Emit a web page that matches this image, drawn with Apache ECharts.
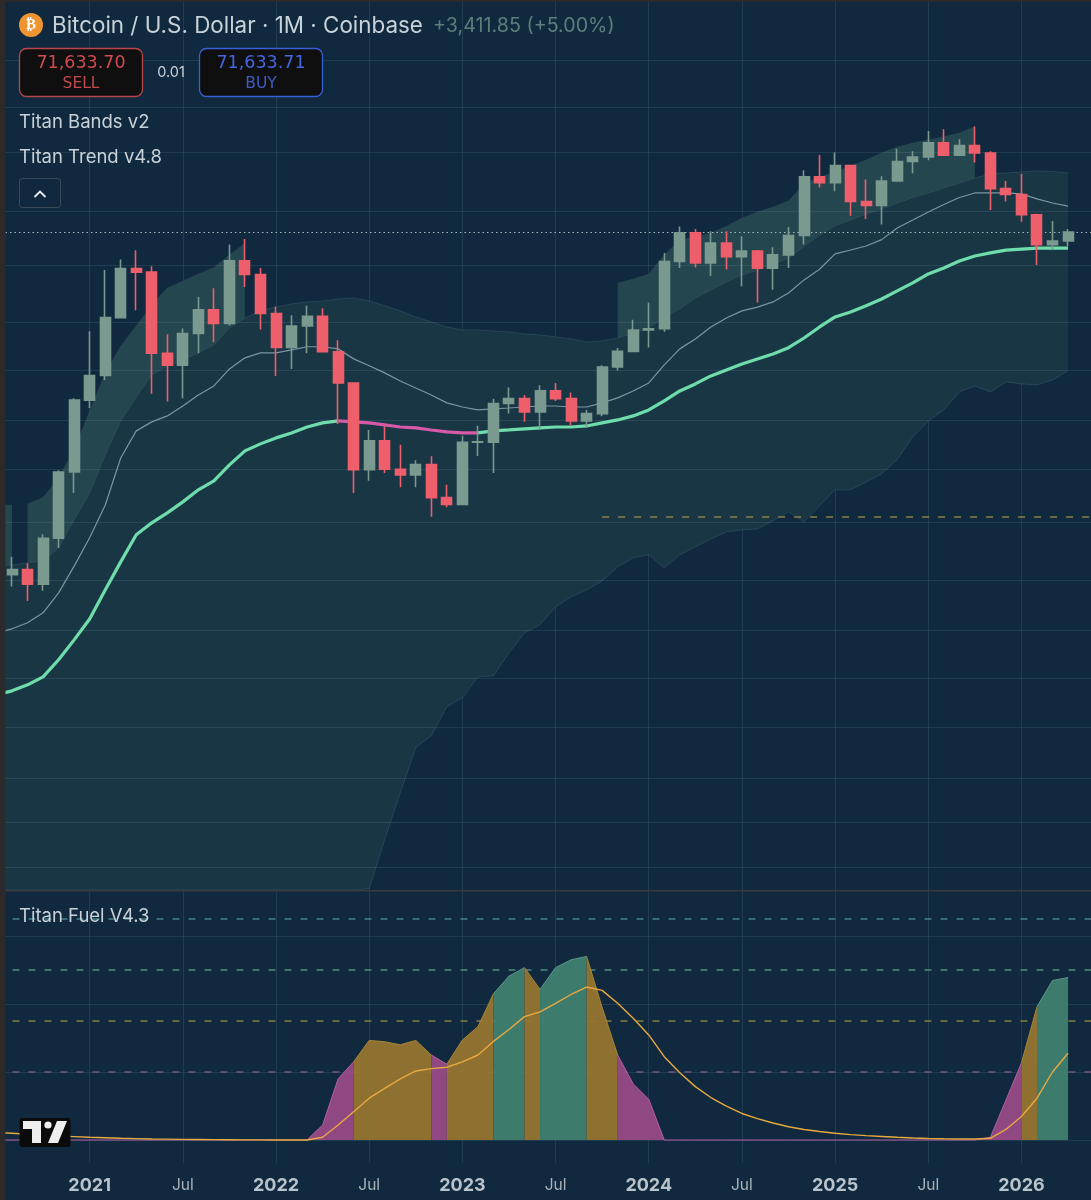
<!DOCTYPE html>
<html>
<head>
<meta charset="utf-8">
<title>Bitcoin / U.S. Dollar</title>
<script src="https://cdn.jsdelivr.net/npm/echarts@6/dist/echarts.min.js"></script>
<style>
  html, body { margin: 0; padding: 0; background: #10293e; }
  #chart { width: 1091px; height: 1200px; }
</style>
</head>
<body>
<div id="chart"></div>
<script>
// monthly bars, Jul 2020 is an empty slot so the bands run off the left edge
const months = [];
for (let i = 0; i < 72; i++) {
  const m = (6 + i) % 12;
  months.push((2020 + Math.floor((6 + i) / 12)) + "-" + String(m + 1).padStart(2, "0"));
}

const candleOpen = [null, 11350, 11655, 10780, 13800, 19700, 29000, 33100, 45200, 58800, 57700, 37300, 35000, 41500, 47100, 43800, 61300, 57000, 46200, 38500, 43200, 45500, 37600, 31800, 19950, 23300, 20000, 19400, 20500, 17170, 16550, 23130, 23130, 28480, 29250, 27200, 30470, 29230, 25940, 26970, 34650, 37700, 42270, 42580, 61130, 71300, 60650, 67500, 62700, 64600, 58970, 63330, 70300, 96400, 93350, 102400, 84350, 82550, 94200, 104600, 107200, 115700, 108200, 114000, 109500, 90400, 87600, 78600, 66900, 68222];
const candleClose = [null, 11655, 10780, 13800, 19700, 29000, 33100, 45200, 58800, 57700, 37300, 35000, 41500, 47100, 43800, 61300, 57000, 46200, 38500, 43200, 45500, 37600, 31800, 19950, 23300, 20000, 19400, 20500, 17170, 16550, 23130, 23180, 28480, 29250, 27200, 30470, 29230, 25940, 26970, 34650, 37700, 42270, 42580, 61130, 71300, 60650, 67500, 62700, 64600, 58970, 63330, 70300, 96400, 93350, 102400, 84350, 82550, 94200, 104600, 107200, 115700, 108200, 114000, 109500, 90400, 87600, 78600, 66900, 68200, 71633];
const candleHigh = [null, 12480, 12070, 14100, 19900, 29300, 42000, 58350, 61800, 64900, 59600, 41300, 42600, 50500, 52900, 67000, 69000, 59000, 47900, 45800, 48200, 47500, 40000, 31900, 24700, 25200, 22800, 21000, 21450, 18400, 23950, 25250, 29200, 31050, 29800, 31400, 31800, 30200, 27500, 35000, 38400, 44700, 49000, 64000, 73800, 72800, 71900, 71900, 70000, 65000, 66000, 73600, 99800, 108300, 109800, 102600, 95000, 96600, 112000, 110500, 123200, 124500, 117900, 126200, 110600, 94200, 98000, 79000, 76000, 72800];
const candleLow = [null, 10650, 9850, 10400, 13100, 17600, 27800, 32300, 45100, 47000, 30000, 28800, 29300, 37300, 39600, 43300, 53300, 42400, 33000, 34300, 37300, 37500, 25500, 17600, 18800, 19600, 18150, 18150, 15480, 16300, 16500, 21470, 19600, 27000, 25800, 24750, 28850, 25300, 25000, 26600, 34000, 37600, 38500, 41900, 59000, 59200, 56500, 58500, 53500, 49000, 52500, 59000, 67000, 91000, 89200, 78200, 76800, 74600, 94000, 98200, 105300, 108000, 107800, 104000, 80600, 84400, 75700, 60000, 65000, 66300];

// Titan Bands v2
const bandTop = [16510, 16510, 16600, 17180, 19110, 22190, 27360, 33570, 38790, 43200, 48430, 53000, 55000, 57150, 59200, 63300, 67500,
  null, null, null, null, null, null, null, null, null, null, null, null, null, null, null, null, null, null, null, null, null, null, null,
  54460, 55640, 57150, 63300, 68630, 69720, 71250, 73860, 77240, 79765, 81900, 84620, 92720, 96210, 98899, 102160, 105500, 109530, 113050, 115580, 117500, 119520, 121960, 126300,
  null, null, null, null, null, null];
const bandUpper = [11890, 11950, 12090, 12220, 13110, 15230, 17610, 21600, 25930, 29510, 33210, 34850, 36000, 37380, 39020, 42750, 45110, 46850, 47870, 48640, 49168, 49430, 49960, 50230, 49430, 48170, 46850, 45350, 44156, 42980, 42290, 42290, 42070, 41845, 41400, 41180, 40740, 40300, 39655, 39870, 40520, 41620, 42750, 45350, 47340, 50230, 52440, 54749, 56870, 58300, 60320, 62210, 66280, 70480, 74060, 76400, 78920, 81000, 83700, 86210, 88340, 90750, 93220, 95740, 97840, 98360, 98899, 99430, 99160, 98360];
const bandMid = [8300, 8480, 8760, 9240, 10290, 11880, 13830, 16480, 21250, 24580, 25800, 26640, 28100, 29800, 31300, 34300, 36400, 37380, 37380, 37990, 38640, 38640, 38200, 36200, 34900, 33570, 32150, 30960, 29800, 28570, 27950, 27510, 27660, 27800, 27950, 28100, 28100, 27950, 27950, 28570, 29350, 30470, 31810, 35040, 38200, 40300, 42980, 45110, 46850, 47830, 49170, 51600, 55350, 58600, 63640, 65000, 66420, 68730, 73200, 76400, 79770, 83000, 86210, 88340, 88340, 88340, 87870, 85550, 83700, 82320];
const bandLower = [1000, 1000, 1000, 1000, 1000, 1000, 1000, 1000, 1000, 1000, 1000, 1000, 1000, 1000, 1000, 1000, 1000, 1000, 1000, 1000, 1000, 1000, 1300, 1620, 2096, 2730, 3510, 4480, 4770, 5575, 5850, 6550, 6580, 7450, 8300, 8670, 9540, 10070, 10450, 10970, 11830, 12420, 12620, 11770, 12620, 13170, 13750, 14281, 14430, 14510, 15150, 15902, 15070, 16430, 17900, 17900, 18684, 19510, 21050, 23790, 25930, 27510, 30309, 31300, 30309, 31982, 31640, 31470, 32330, 33930];
const topFillRuns = [[0, 1], [2, 16], [40, 63]];

// Titan Trend v4.8
const trendLine = [5950, 6075, 6275, 6550, 7180, 7990, 8940, 10450, 12154, 14060, 14990, 15820, 16780, 17900, 18780, 20470, 22070, 22920, 23670, 24310, 25100, 25660, 25930, 25795, 25660, 25390, 25100, 24970, 24700, 24445, 24310, 24310, 24580, 24700, 24840, 24970, 25100, 25100, 25240, 25660, 26070, 26640, 27510, 28880, 30470, 31640, 33030, 34110, 35230, 36180, 37180, 38440, 40500, 42980, 45350, 46595, 48190, 49960, 52160, 54460, 57150, 59030, 61290, 62940, 63990, 64980, 65330, 65680, 65680, 65680];
const trendBearRun = [22, 31];

// Titan Fuel V4.3
const fuelValues = [0, 0, 0, 0, 0, 0, 0, 0, 0, 0, 0, 0, 0, 0, 0, 0, 0, 0, 0, 0, 0, 4.4, 18, 23, 29.3, 28.9, 28, 29.3, 25, 22.3, 29.4, 33.3, 43, 48.2, 50.7, 44.3, 50.7, 53, 54, 39, 25, 16.5, 12, 0, 0, 0, 0, 0, 0, 0, 0, 0, 0, 0, 0, 0, 0, 0, 0, 0, 0, 0, 0, 0, 0.8, 11.7, 22.7, 39.2, 46.9, 47.8];
const fuelSignal = [2.2, 2, 1.7, 1.45, 1.2, 1, 0.8, 0.65, 0.5, 0.4, 0.3, 0.25, 0.2, 0.15, 0.1, 0.08, 0.05, 0.03, 0.02, 0.01, 0.01, 0.8, 4.4, 8.3, 12.3, 15.2, 18, 20.3, 21, 21.4, 23, 25, 29, 32.5, 36.3, 37.7, 40.2, 42.8, 45, 44, 40.2, 35.8, 30.9, 24.5, 19.8, 15.7, 12.5, 10, 7.8, 6.3, 5, 3.9, 3.1, 2.5, 2, 1.6, 1.3, 1.05, 0.8, 0.6, 0.45, 0.35, 0.3, 0.3, 0.5, 3.1, 6.9, 12.3, 20, 25.5];
const fuelRuns = [["p", 0, 23], ["o", 23, 28], ["p", 28, 29], ["o", 29, 32], ["g", 32, 34], ["o", 34, 35], ["g", 35, 38], ["o", 38, 40], ["p", 40, 66], ["o", 66, 67], ["g", 67, 69]];
const fuelLevels = [[20, "#74577f"], [35, "#86813f"], [50, "#4f8a7e"], [65, "#47808a"]];
const fuelGrid = [0, 20, 40, 60];

const priceGrid = [180000, 140000, 110000, 80000, 60000, 44000, 34000, 26000, 20000, 15000, 11000, 8400, 6500, 5000, 3800, 3000, 2350];
const lastPrice = 71633;
const cycleLow = 15480;

const BG = "#10293e";
const GRID = "rgba(135,175,195,0.14)";
const UP = "#7a9a90";
const DOWN = "#ee5f6b";
const TEXT = "#c8d2d8";
const FONT = "Inter, Roboto, sans-serif";
const WIDE = "'DejaVu Sans', sans-serif";
const FUEL_FILL = { p: "#974a85", o: "#96752f", g: "#407f70" };
const FUEL_EDGE = { p: "#b45fa2", o: "#a88536", g: "#5c978a" };

const chart = echarts.init(document.getElementById("chart"));

function isGridMonth(i) {
  const m = months[i].slice(5);
  return i > 0 && (m === "01" || m === "07");
}

function bandSeries(runs, upper, lower, fill, edge, z) {
  return {
    type: "custom",
    xAxisIndex: 0,
    yAxisIndex: 0,
    z: z,
    silent: true,
    data: runs.map(r => [r[0], upper[r[0]]]),
    renderItem(params, api) {
      const run = runs[params.dataIndex];
      const top = [], bot = [];
      for (let i = run[0]; i <= run[1]; i++) {
        top.push(api.coord([i, upper[i]]));
        bot.push(api.coord([i, lower[i]]));
      }
      const rect = params.coordSys;
      const a = echarts.graphic.clipPointsByRect(top, rect);
      const b = echarts.graphic.clipPointsByRect(bot, rect);
      return {
        type: "group",
        children: [
          { type: "polygon", shape: { points: a.concat(b.slice().reverse()) }, style: { fill: fill } },
          { type: "polyline", shape: { points: a }, style: { fill: null, stroke: edge, lineWidth: 1 } },
          { type: "polyline", shape: { points: b }, style: { fill: null, stroke: edge, lineWidth: 1 } }
        ]
      };
    }
  };
}

const fuelAreaSeries = {
  type: "custom",
  xAxisIndex: 1,
  yAxisIndex: 1,
  z: 3,
  silent: true,
  data: fuelRuns.map(r => [r[1], fuelValues[r[1]]]),
  renderItem(params, api) {
    const run = fuelRuns[params.dataIndex];
    const top = [];
    for (let i = run[1]; i <= run[2]; i++) top.push(api.coord([i, fuelValues[i]]));
    const base = [api.coord([run[2], 0]), api.coord([run[1], 0])];
    return {
      type: "group",
      children: [
        { type: "polygon", shape: { points: top.concat(base) }, style: { fill: FUEL_FILL[run[0]], opacity: 0.95 } },
        { type: "polyline", shape: { points: top }, style: { fill: null, stroke: FUEL_EDGE[run[0]], lineWidth: 1 } }
      ]
    };
  }
};

const solidLine = v => ({ yAxis: v, lineStyle: { color: GRID, width: 1, type: "solid" } });
const lowLine = { color: "#8a8048", width: 1.5, type: [7, 9] };

const option = {
  animation: false,
  backgroundColor: BG,
  grid: [
    { left: -3.53, top: 0, width: 1102.63, height: 890, outerBoundsMode: "none" },
    { left: -3.53, top: 890, width: 1102.63, height: 273, outerBoundsMode: "none" }
  ],
  xAxis: [
    {
      type: "category", gridIndex: 0, data: months, boundaryGap: false,
      axisLine: { show: false }, axisTick: { show: false }, axisLabel: { show: false },
      splitLine: { show: true, interval: isGridMonth, lineStyle: { color: GRID, width: 1 } }
    },
    {
      type: "category", gridIndex: 1, data: months, boundaryGap: false,
      axisLine: { show: false }, axisTick: { show: false },
      splitLine: { show: true, interval: isGridMonth, lineStyle: { color: GRID, width: 1 } },
      axisLabel: {
        interval: isGridMonth,
        margin: 14,
        formatter: v => v.endsWith("-01") ? "{y|" + v.slice(0, 4) + "}" : "{m|Jul}",
        rich: {
          y: { fontFamily: FONT, fontSize: 18, fontWeight: 700, color: "#b9c3cb" },
          m: { fontFamily: FONT, fontSize: 15.5, color: "#a9b4bc" }
        }
      }
    }
  ],
  yAxis: [
    { type: "log", gridIndex: 0, min: 2082, max: 249300, show: false, splitLine: { show: false } },
    { type: "value", gridIndex: 1, min: -6.76, max: 73.53, show: false, splitLine: { show: false } }
  ],
  series: [
    bandSeries([[0, 69]], bandUpper, bandLower, "#193645", "rgba(95,140,150,0.24)", 1),
    bandSeries(topFillRuns, bandTop, bandUpper, "#24464f", "rgba(95,140,150,0.10)", 1),
    {
      type: "line", xAxisIndex: 0, yAxisIndex: 0, z: 3, data: bandMid, showSymbol: false, silent: true,
      lineStyle: { color: "#7d95a3", width: 1.2 },
      markLine: {
        z: 2, silent: true, symbol: "none", animation: false, label: { show: false },
        data: priceGrid.map(solidLine).concat([
          { yAxis: lastPrice, lineStyle: { color: "#a8bcc0", width: 1, type: [1.5, 3] } },
          [
            { coord: [39, cycleLow], lineStyle: lowLine },
            { coord: [71, cycleLow], lineStyle: lowLine }
          ]
        ])
      }
    },
    {
      type: "line", xAxisIndex: 0, yAxisIndex: 0, z: 4, showSymbol: false, silent: true,
      data: trendLine.map((v, i) => (i > trendBearRun[0] && i < trendBearRun[1]) ? null : v),
      lineStyle: { color: "#6fdcab", width: 3.2 }
    },
    {
      type: "line", xAxisIndex: 0, yAxisIndex: 0, z: 4, showSymbol: false, silent: true,
      data: trendLine.map((v, i) => (i >= trendBearRun[0] && i <= trendBearRun[1]) ? v : null),
      lineStyle: { color: "#d65aa8", width: 3.2 }
    },
    {
      type: "candlestick", xAxisIndex: 0, yAxisIndex: 0, z: 6, silent: true, barWidth: 10.5,
      data: candleOpen.map((o, i) => o === null ? "-" : [o, candleClose[i], candleLow[i], candleHigh[i]]),
      itemStyle: { color: UP, color0: DOWN, borderColor: UP, borderColor0: DOWN, borderWidth: 1.6 }
    },
    fuelAreaSeries,
    {
      type: "line", xAxisIndex: 1, yAxisIndex: 1, z: 4, data: fuelSignal, showSymbol: false, silent: true,
      lineStyle: { color: "#e8a93f", width: 1.4 },
      markLine: {
        z: 2, silent: true, symbol: "none", animation: false, label: { show: false },
        data: fuelGrid.map(solidLine).concat(fuelLevels.map(l => ({
          yAxis: l[0], lineStyle: { color: l[1], width: 1.6, type: [7, 9] }
        })))
      }
    }
  ],
  graphic: { elements: [
    // window edge and pane divider
    { type: "rect", z: 100, shape: { x: 0, y: 0, width: 5.5, height: 1200 }, style: { fill: "#2c2a2a" } },
    { type: "rect", z: 100, shape: { x: 0, y: 0, width: 1091, height: 2 }, style: { fill: "#2c2a2a" } },
    { type: "rect", z: 50, shape: { x: 5, y: 890, width: 1086, height: 1.5 }, style: { fill: "#3a3b3f" } },
    // header
    { type: "circle", z: 60, shape: { cx: 31, cy: 25, r: 12 }, style: { fill: "#f0942f" } },
    { type: "text", z: 61, style: { x: 31, y: 25, text: "₿", fill: "#fff", font: "700 15px 'DejaVu Sans'", align: "center", verticalAlign: "middle" } },
    { type: "text", z: 60, style: { x: 52, y: 26, text: "Bitcoin / U.S. Dollar · 1M · Coinbase", fill: TEXT, font: "22.4px " + FONT, align: "left", verticalAlign: "middle" } },
    { type: "text", z: 60, style: { x: 433, y: 26, text: "+3,411.85 (+5.00%)", fill: "#5e7d7b", font: "19.7px " + FONT, align: "left", verticalAlign: "middle" } },
    { type: "rect", z: 60, shape: { x: 19.5, y: 48.5, width: 123, height: 48, r: 7 }, style: { fill: "#0f0f10", stroke: "#b8474c", lineWidth: 1.3 } },
    { type: "text", z: 61, style: { x: 81, y: 63.5, text: "71,633.70", fill: "#d04c50", font: "17.5px " + WIDE, align: "center", verticalAlign: "middle" } },
    { type: "text", z: 61, style: { x: 81, y: 84, text: "SELL", fill: "#c04a4e", font: "15.5px " + WIDE, align: "center", verticalAlign: "middle" } },
    { type: "text", z: 60, style: { x: 171, y: 73, text: "0.01", fill: TEXT, font: "14.5px " + FONT, align: "center", verticalAlign: "middle" } },
    { type: "rect", z: 60, shape: { x: 199.5, y: 48.5, width: 123, height: 48, r: 7 }, style: { fill: "#0f0f10", stroke: "#3a60d8", lineWidth: 1.3 } },
    { type: "text", z: 61, style: { x: 261, y: 63.5, text: "71,633.71", fill: "#4467e0", font: "17.5px " + WIDE, align: "center", verticalAlign: "middle" } },
    { type: "text", z: 61, style: { x: 261, y: 84, text: "BUY", fill: "#3d5dc8", font: "15.5px " + WIDE, align: "center", verticalAlign: "middle" } },
    { type: "text", z: 60, style: { x: 19, y: 122, text: "Titan Bands v2", fill: TEXT, font: "18.5px " + FONT, align: "left", verticalAlign: "middle" } },
    { type: "text", z: 60, style: { x: 19, y: 157, text: "Titan Trend v4.8", fill: TEXT, font: "18.5px " + FONT, align: "left", verticalAlign: "middle" } },
    { type: "rect", z: 60, shape: { x: 19.5, y: 178.5, width: 41, height: 29, r: 3 }, style: { fill: BG, stroke: "#3b4a55", lineWidth: 1 } },
    { type: "polyline", z: 61, shape: { points: [[34.5, 197], [40, 191.5], [45.5, 197]] }, style: { fill: null, stroke: "#e8edf0", lineWidth: 1.8 } },
    { type: "text", z: 60, style: { x: 19, y: 916, text: "Titan Fuel V4.3", fill: TEXT, font: "18.5px " + FONT, align: "left", verticalAlign: "middle" } },
    // watermark logo
    { type: "rect", z: 60, shape: { x: 19.5, y: 1118, width: 51, height: 29, r: 3 }, style: { fill: "#0b0b0b" } },
    { type: "polygon", z: 61, shape: { points: [[23, 1121], [41, 1121], [41, 1143], [32, 1143], [32, 1129], [23, 1129]] }, style: { fill: "#eeeeee" } },
    { type: "circle", z: 61, shape: { cx: 48, cy: 1125, r: 3.6 }, style: { fill: "#eeeeee" } },
    { type: "polygon", z: 61, shape: { points: [[57, 1121], [67, 1121], [58, 1143], [48, 1143]] }, style: { fill: "#eeeeee" } }
  ] }
};

chart.setOption(option);
</script>
</body>
</html>
